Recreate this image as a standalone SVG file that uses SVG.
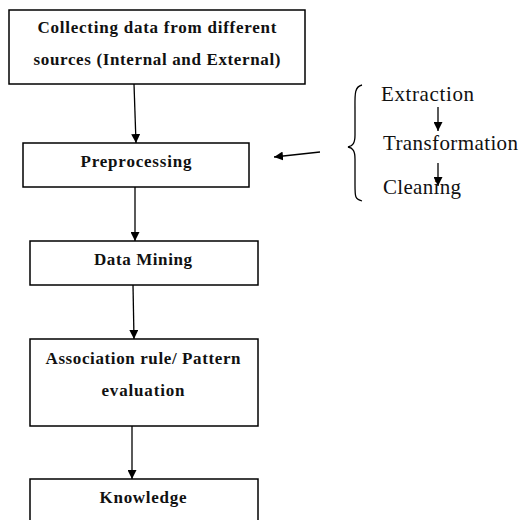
<svg xmlns="http://www.w3.org/2000/svg" width="521" height="520" viewBox="0 0 521 520">
<style>
.box{fill:#fff;stroke:#000;stroke-width:1.5}
.t{font-family:'Liberation Serif','Times New Roman','DejaVu Serif',serif;font-weight:bold;font-size:17px;fill:#111;text-anchor:middle}
.step{font-family:'Liberation Serif','Times New Roman','DejaVu Serif',serif;font-weight:normal;font-size:21px;fill:#111}
.c{stroke:#000;stroke-width:1.3;fill:none}
</style>
<defs>
<marker id="ah" viewBox="0 0 10 10" refX="10" refY="5" markerWidth="9" markerHeight="9" markerUnits="userSpaceOnUse" orient="auto">
<path d="M0,0 L10,5 L0,10 z" fill="#000"/>
</marker>
</defs>
<rect width="521" height="520" fill="#fff"/>
<g id="n1">
<rect class="box" x="9" y="10" width="296" height="74"/>
<text class="t" x="157" y="33" textLength="239" lengthAdjust="spacing">Collecting data from different</text>
<text class="t" x="157" y="65" textLength="247" lengthAdjust="spacing">sources (Internal and External)</text>
</g>
<g id="n2">
<rect class="box" x="23" y="143" width="226" height="44"/>
<text class="t" x="136" y="167" textLength="111" lengthAdjust="spacing">Preprocessing</text>
</g>
<g id="n3">
<rect class="box" x="30" y="241" width="228" height="44"/>
<text class="t" x="143" y="265" textLength="98" lengthAdjust="spacing">Data Mining</text>
</g>
<g id="n4">
<rect class="box" x="30" y="339" width="228" height="87"/>
<text class="t" x="143" y="364" textLength="195" lengthAdjust="spacing">Association rule/ Pattern</text>
<text class="t" x="143" y="396" textLength="83" lengthAdjust="spacing">evaluation</text>
</g>
<g id="n5">
<rect class="box" x="30" y="479" width="228" height="50"/>
<text class="t" x="143" y="503" textLength="87" lengthAdjust="spacing">Knowledge</text>
</g>
<g id="steps">
<text class="step" font-family="Liberation Serif, serif" x="381" y="101" textLength="93" lengthAdjust="spacing">Extraction</text>
<text class="step" font-family="Liberation Serif, serif" x="383" y="150" textLength="135" lengthAdjust="spacing">Transformation</text>
<text class="step" font-family="Liberation Serif, serif" x="383" y="194" textLength="78" lengthAdjust="spacing">Cleaning</text>
<path class="c" d="M362,85 C354,87 355,95 355,110 L355,135 C355,143 353,146 348,147 C353,148 355,151 355,159 L355,185 C355,197 355,199 362,201"/>
</g>
<g id="connectors">
<line class="c" x1="134" y1="84" x2="136" y2="143" marker-end="url(#ah)"/>
<line class="c" x1="135" y1="187" x2="135" y2="241" marker-end="url(#ah)"/>
<line class="c" x1="133" y1="285" x2="134" y2="339" marker-end="url(#ah)"/>
<line class="c" x1="132" y1="426" x2="132" y2="479" marker-end="url(#ah)"/>
<line class="c" x1="320" y1="152" x2="274" y2="157" marker-end="url(#ah)"/>
<line class="c" x1="438" y1="107" x2="438" y2="131" marker-end="url(#ah)"/>
<line class="c" x1="438" y1="163" x2="438" y2="186" marker-end="url(#ah)"/>
</g>
</svg>
